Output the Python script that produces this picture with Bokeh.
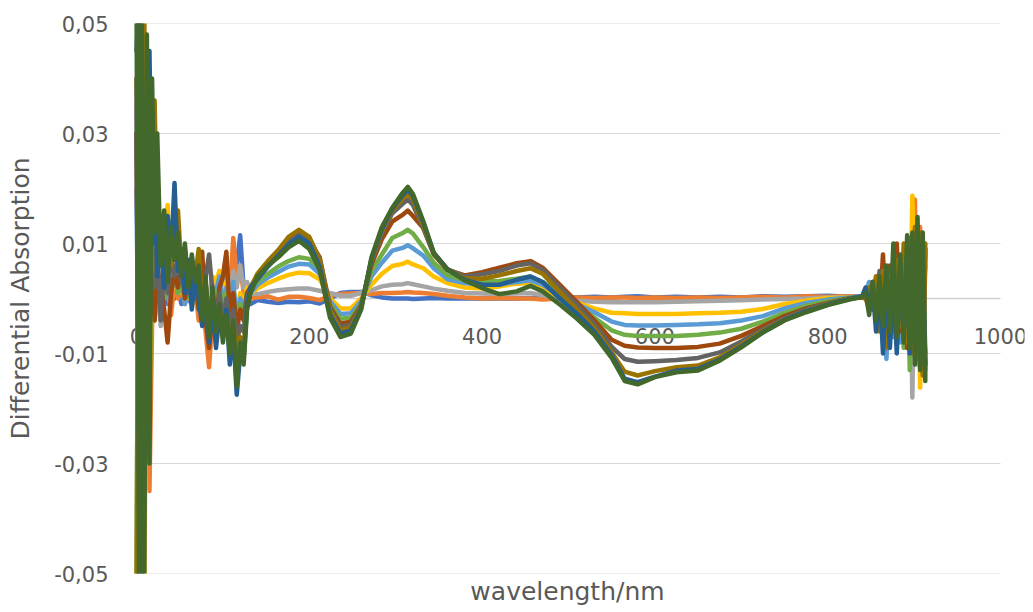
from bokeh.plotting import figure
from bokeh.models import Range1d, FixedTicker, Label
from bokeh.embed import file_html
from bokeh.resources import INLINE

# ---------------- data ----------------
wavelength = [
    0, 3, 6, 9, 12, 15, 18, 21, 24, 28, 32, 36, 40, 44, 48, 52, 56, 60, 64, 68, 72, 76, 80, 84,
    88, 92, 96, 100, 104, 108, 112, 116, 120, 124, 128, 132,
    140, 152, 164, 176, 188, 200, 212, 224, 236, 248, 260, 272, 284, 296, 308, 314, 320, 332, 344,
    360, 380, 400, 420, 440, 456, 470, 490, 510, 530, 550, 565, 580, 600, 625, 650, 675, 700,
    725, 750, 775, 800, 825, 840,
    844, 848, 852, 856, 860, 864, 868, 872, 876, 880, 884, 888, 892, 895, 898, 901, 904, 907, 910, 913,
]

s01_blue = [
    0.020, -0.025, 0.010, -0.008, 0.004, -0.003, 0.002, -0.002, 0.003,
    0.000, 0.002, -0.001, 0.001, 0.000, 0.002, -0.001, 0.001, 0.000, -0.001, 0.001, -0.002, 0.000, -0.003,
    -0.001, 0.001, -0.002, 0.000, 0.001, 0.002, 0.000, 0.004, 0.006, 0.0115, 0.002, 0.000, -0.001,
    -0.0003, -0.0006, -0.0008, -0.0006, -0.0007, -0.0005, -0.0009, 0.0000, 0.0010, 0.0012, 0.0012, 0.0006,
    0.0002, 0.0000, 0.0000, 0.0000, -0.0001, 0.0000, 0.0001, 0.0000, 0.0000, 0.0000, 0.0000, 0.0000, 0.0001,
    0.0000, 0.0002, 0.0002, 0.0003, 0.0002, 0.0003, 0.0004, 0.0002, 0.0003, 0.0002, 0.0003, 0.0002,
    0.0004, 0.0003, 0.0004, 0.0005, 0.0003, 0.0004,
    0.002, 0.000, 0.003, -0.001, 0.002, -0.003, 0.004, -0.004, 0.005, -0.005, 0.006, -0.006, 0.007,
    -0.008, 0.008, -0.009, 0.010, -0.010, 0.009, -0.010,
]
s02_orange = [
    0.030, -0.020, 0.015, -0.010, 0.005, -0.035, -0.005, 0.004, -0.002,
    0.003, 0.001, 0.002, -0.003, 0.003, 0.000, 0.002, -0.001, 0.001, 0.000, 0.002, -0.004, 0.001, -0.006,
    -0.0125, -0.003, 0.000, 0.002, -0.001, 0.003, 0.001, 0.011, 0.004, 0.006, 0.001, 0.000, 0.000,
    0.0002, 0.0004, -0.0002, 0.0003, 0.0003, 0.0001, -0.0003, 0.0005, 0.0008, 0.0009, 0.0010, 0.0008,
    0.0010, 0.0010, 0.0011, 0.0012, 0.0011, 0.0010, 0.0008, 0.0005, 0.0002, 0.0000, 0.0001, 0.0000, 0.0000,
    -0.0002, 0.0000, 0.0002, 0.0001, 0.0002, 0.0002, 0.0001, 0.0002, 0.0001, 0.0002, 0.0001, 0.0002,
    0.0003, 0.0002, 0.0004, 0.0003, 0.0004, 0.0002,
    0.000, -0.002, 0.002, -0.003, 0.003, -0.004, 0.004, -0.005, 0.006, -0.006, 0.007, -0.007, 0.009,
    -0.009, 0.012, 0.018, -0.011, 0.013, -0.012, 0.009,
]
s03_gray = [
    0.035, -0.035, 0.020, -0.018, 0.008, -0.008, 0.004, -0.004, 0.005,
    -0.005, 0.003, 0.000, 0.004, 0.002, 0.003, 0.001, 0.002, 0.000, 0.003, 0.001, 0.004, 0.002, 0.001,
    0.000, 0.003, 0.001, 0.005, 0.002, 0.004, 0.000, 0.005, 0.002, 0.006, 0.002, 0.003, 0.001,
    0.0008, 0.0012, 0.0015, 0.0017, 0.0018, 0.0018, 0.0014, 0.0010, 0.0005, 0.0005, 0.0010, 0.0015,
    0.0022, 0.0025, 0.0026, 0.0028, 0.0026, 0.0022, 0.0018, 0.0014, 0.0010, 0.0009, 0.0008, 0.0009, 0.0010,
    0.0006, 0.0000, -0.0004, -0.0006, -0.0007, -0.0007, -0.0007, -0.0007, -0.0006, -0.0005, -0.0004, -0.0003,
    -0.0002, -0.0001, 0.0000, 0.0002, 0.0002, 0.0002,
    0.001, 0.002, -0.002, 0.003, -0.003, 0.004, -0.004, 0.005, -0.006, 0.006, -0.007, 0.008, -0.009,
    0.010, -0.018, 0.011, -0.012, 0.010, -0.013, 0.008,
]
s04_yellow = [
    0.040, 0.020, -0.030, -0.055, 0.010, -0.020, 0.006, -0.004, 0.004,
    0.002, 0.006, 0.017, 0.004, 0.002, 0.006, 0.001, 0.004, 0.000, 0.003, -0.001, 0.002, 0.000, 0.001,
    -0.002, 0.004, 0.003, 0.005, 0.000, 0.003, -0.002, 0.002, -0.003, 0.001, -0.001, 0.002, 0.001,
    0.0018, 0.0028, 0.0036, 0.0043, 0.0047, 0.0046, 0.0035, 0.0000, -0.0018, -0.0018, 0.0000, 0.0025,
    0.0045, 0.0059, 0.0063, 0.0067, 0.0062, 0.0055, 0.0040, 0.0028, 0.0020, 0.0018, 0.0022, 0.0027, 0.0028,
    0.0018, 0.0002, -0.0008, -0.0018, -0.0026, -0.0027, -0.0028, -0.0028, -0.0028, -0.0027, -0.0026, -0.0024,
    -0.0019, -0.0010, -0.0004, 0.0001, 0.0002, 0.0002,
    0.002, -0.001, 0.003, -0.002, 0.004, -0.003, 0.005, -0.004, 0.006, -0.005, 0.007, -0.006, 0.009,
    -0.008, 0.0187, -0.009, 0.012, -0.0162, 0.010, -0.014,
]
s05_lightblue = [
    0.030, -0.030, 0.020, -0.015, 0.010, 0.004, 0.008, -0.002, 0.005,
    0.001, 0.003, 0.000, 0.002, 0.004, 0.001, 0.003, -0.001, 0.002, 0.000, 0.002, -0.001, 0.001, -0.002,
    0.000, -0.003, 0.001, 0.004, -0.001, 0.002, -0.002, 0.003, -0.004, 0.000, -0.002, 0.001, 0.001,
    0.0025, 0.0038, 0.0048, 0.0058, 0.0063, 0.0062, 0.0045, -0.0005, -0.0028, -0.0027, -0.0005, 0.0040,
    0.0065, 0.0087, 0.0092, 0.0097, 0.0091, 0.0078, 0.0055, 0.0035, 0.0028, 0.0025, 0.0026, 0.0030, 0.0033,
    0.0025, 0.0006, -0.0010, -0.0025, -0.0042, -0.0048, -0.0049, -0.0049, -0.0048, -0.0047, -0.0045, -0.0040,
    -0.0032, -0.0018, -0.0008, -0.0002, 0.0002, 0.0003,
    0.001, 0.003, -0.001, 0.002, -0.004, 0.003, -0.011, 0.004, -0.007, 0.005, -0.008, 0.006, -0.009,
    0.008, -0.010, 0.009, -0.011, 0.010, -0.012, 0.006,
]
s06_green = [
    -0.055, 0.050, -0.045, 0.020, -0.010, 0.008, 0.002, 0.006, 0.001,
    0.004, 0.000, 0.003, 0.002, 0.004, 0.001, 0.003, 0.000, 0.002, -0.001, 0.001, -0.002, 0.000, -0.003,
    -0.001, -0.004, 0.000, 0.002, -0.002, 0.001, -0.003, 0.000, -0.005, -0.001, -0.003, 0.001, 0.002,
    0.0030, 0.0045, 0.0058, 0.0068, 0.0075, 0.0072, 0.0055, -0.0010, -0.0037, -0.0035, -0.0010, 0.0050,
    0.0080, 0.0110, 0.0119, 0.0125, 0.0118, 0.0093, 0.0065, 0.0042, 0.0033, 0.0031, 0.0032, 0.0036, 0.0040,
    0.0030, 0.0010, -0.0012, -0.0035, -0.0058, -0.0066, -0.0068, -0.0068, -0.0068, -0.0066, -0.0062, -0.0055,
    -0.0042, -0.0026, -0.0013, -0.0005, 0.0001, 0.0003,
    0.001, -0.001, 0.002, -0.003, 0.003, -0.004, 0.005, -0.005, 0.006, -0.006, 0.005, -0.009, 0.008,
    -0.013, 0.009, -0.010, 0.010, -0.011, 0.008, -0.012,
]
s07_brown = [
    0.030, -0.030, 0.020, -0.010, 0.015, -0.005, 0.010, -0.004, 0.005,
    0.003, -0.002, -0.008, 0.001, 0.005, 0.002, 0.006, 0.000, 0.004, 0.001, 0.003, -0.002, 0.0085, -0.004,
    -0.009, -0.002, -0.005, 0.002, 0.004, 0.0085, -0.003, 0.001, -0.006, -0.002, -0.004, 0.001, 0.002,
    0.0040, 0.0062, 0.0080, 0.0100, 0.0110, 0.0105, 0.0075, -0.0015, -0.0046, -0.0042, -0.0012, 0.0062,
    0.0108, 0.0140, 0.0152, 0.0160, 0.0150, 0.0128, 0.0080, 0.0052, 0.0042, 0.0048, 0.0056, 0.0064, 0.0068,
    0.0056, 0.0025, -0.0007, -0.0040, -0.0075, -0.0086, -0.0089, -0.0090, -0.0090, -0.0088, -0.0082, -0.0068,
    -0.0050, -0.0032, -0.0018, -0.0008, 0.0000, 0.0002,
    0.000, 0.002, -0.002, 0.004, -0.003, 0.008, -0.005, 0.006, -0.004, 0.010, -0.006, 0.007, -0.009,
    0.010, -0.008, 0.012, -0.010, 0.011, -0.012, 0.009,
]
s08_darkgray = [
    0.040, -0.040, 0.035, -0.015, 0.025, 0.005, 0.015, 0.002, 0.010,
    -0.004, 0.006, 0.001, 0.008, 0.004, 0.007, 0.003, 0.009, 0.001, 0.006, 0.002, 0.005, 0.002, 0.004,
    0.008, 0.001, -0.005, 0.001, -0.004, 0.000, -0.006, -0.002, -0.008, -0.005, -0.006, 0.000, 0.002,
    0.0042, 0.0066, 0.0085, 0.0108, 0.0120, 0.0110, 0.0072, -0.0018, -0.0052, -0.0047, -0.0013, 0.0068,
    0.0118, 0.0155, 0.0172, 0.0180, 0.0170, 0.0128, 0.0082, 0.0053, 0.0040, 0.0044, 0.0050, 0.0060, 0.0064,
    0.0052, 0.0020, -0.0012, -0.0047, -0.0088, -0.0110, -0.0115, -0.0114, -0.0112, -0.0108, -0.0098, -0.0078,
    -0.0056, -0.0036, -0.0020, -0.0009, 0.0000, 0.0003,
    0.001, -0.002, 0.003, -0.003, 0.005, -0.004, 0.004, -0.006, 0.007, -0.005, 0.006, -0.008, 0.009,
    -0.007, 0.010, -0.010, 0.011, -0.011, 0.009, -0.013,
]
s09_darkyellow = [
    -0.055, 0.055, 0.030, 0.052, -0.010, 0.020, 0.005, 0.036, 0.008,
    0.010, 0.004, 0.009, 0.006, 0.012, 0.016, 0.005, 0.008, 0.003, 0.007, 0.004, 0.009, -0.002, 0.003,
    -0.006, 0.000, -0.008, -0.002, -0.005, -0.003, -0.009, -0.004, -0.011, -0.007, -0.009, -0.001, 0.002,
    0.0045, 0.0068, 0.0088, 0.0112, 0.0125, 0.0112, 0.0070, -0.0022, -0.0058, -0.0052, -0.0015, 0.0070,
    0.0122, 0.0160, 0.0181, 0.0190, 0.0180, 0.0132, 0.0083, 0.0053, 0.0037, 0.0036, 0.0042, 0.0050, 0.0055,
    0.0045, 0.0012, -0.0020, -0.0054, -0.0098, -0.0133, -0.0140, -0.0132, -0.0125, -0.0122, -0.0107, -0.0084,
    -0.0059, -0.0038, -0.0022, -0.0010, 0.0000, 0.0003,
    0.000, 0.002, -0.002, 0.004, -0.006, 0.005, -0.009, 0.004, -0.006, 0.007, -0.005, 0.010, -0.008,
    0.011, -0.010, 0.013, -0.011, 0.012, -0.014, 0.010,
]
s10_blue = [
    0.045, 0.055, -0.055, 0.030, -0.020, 0.045, 0.010, 0.025, 0.004,
    0.012, 0.002, 0.015, 0.008, 0.021, 0.005, 0.009, 0.001, 0.007, -0.002, 0.005, 0.000, -0.005, 0.003,
    -0.008, -0.001, -0.009, -0.003, -0.006, -0.002, -0.012, -0.006, -0.0175, -0.010, -0.011, -0.001, 0.002,
    0.0035, 0.0058, 0.0078, 0.0098, 0.0112, 0.0100, 0.0058, -0.0030, -0.0064, -0.0058, -0.0018, 0.0072,
    0.0126, 0.0163, 0.0188, 0.0198, 0.0187, 0.0138, 0.0083, 0.0053, 0.0034, 0.0025, 0.0025, 0.0034, 0.0040,
    0.0030, 0.0000, -0.0028, -0.0060, -0.0103, -0.0146, -0.0152, -0.0142, -0.0131, -0.0128, -0.0111, -0.0087,
    -0.0061, -0.0039, -0.0023, -0.0011, -0.0001, 0.0004,
    0.002, -0.002, 0.002, -0.006, 0.003, -0.010, 0.004, -0.009, 0.003, -0.010, 0.006, -0.006, 0.008,
    -0.010, 0.010, -0.008, 0.012, -0.012, 0.006, -0.012,
]
s11_darkgreen = [
    0.055, -0.055, 0.050, -0.052, 0.048, -0.030, 0.040, 0.012, 0.030,
    0.006, 0.016, 0.003, 0.013, 0.007, 0.012, 0.004, 0.010, 0.002, 0.008, 0.003, 0.006, -0.004, 0.004,
    -0.007, 0.002, -0.006, -0.001, -0.008, -0.003, -0.010, -0.004, -0.016, -0.008, -0.012, -0.002, 0.001,
    0.0040, 0.0060, 0.0075, 0.0093, 0.0105, 0.0090, 0.0052, -0.0035, -0.0070, -0.0064, -0.0020, 0.0075,
    0.0130, 0.0165, 0.0192, 0.0203, 0.0190, 0.0140, 0.0082, 0.0052, 0.0033, 0.0019, 0.0008, 0.0013, 0.0023,
    0.0013, -0.0011, -0.0037, -0.0066, -0.0108, -0.0150, -0.0156, -0.0143, -0.0134, -0.0131, -0.0113, -0.0089,
    -0.0062, -0.0040, -0.0025, -0.0012, -0.0002, 0.0003,
    0.001, -0.003, 0.003, -0.004, 0.004, -0.005, 0.006, -0.006, 0.010, -0.007, 0.008, -0.008, 0.0115,
    -0.009, 0.012, -0.012, 0.0148, -0.013, 0.012, -0.015,
]

series_values = [s01_blue, s02_orange, s03_gray, s04_yellow, s05_lightblue, s06_green,
                 s07_brown, s08_darkgray, s09_darkyellow, s10_blue, s11_darkgreen]
series_colors = ["#4472C4", "#ED7D31", "#A5A5A5", "#FFC000", "#5B9BD5", "#70AD47",
                 "#9E480E", "#636363", "#997300", "#255E91", "#43682B"]

x_ticks = [0, 200, 400, 600, 800, 1000]
x_tick_labels = ["0", "200", "400", "600", "800", "1000"]
y_ticks = [-0.05, -0.03, -0.01, 0.01, 0.03, 0.05]
y_tick_labels = ["-0,05", "-0,03", "-0,01", "0,01", "0,03", "0,05"]
x_title = "wavelength/nm"
y_title = "Differential Absorption"

# ---------------- figure ----------------
FONT = "DejaVu Sans"
TXT = "#595959"
GRID = "#D9D9D9"
x_min, x_max = x_ticks[0], x_ticks[-1]

# frame is a bit wider than the 0..1000 axis so that edge tick labels are not clipped
p = figure(width=1033, height=612, output_backend="svg", toolbar_location=None,
           x_range=Range1d(-30.1, 1027.8), y_range=Range1d(-0.05, 0.05),
           min_border_left=110, min_border_right=9, min_border_top=23, min_border_bottom=39,
           background_fill_color="white", border_fill_color="white")
p.outline_line_color = None
p.xgrid.visible = False
p.ygrid.visible = False

# horizontal gridlines and the zero axis line, spanning the 0..1000 axis only
p.segment(x0=[x_min] * len(y_ticks), x1=[x_max] * len(y_ticks), y0=y_ticks, y1=y_ticks,
          line_color=GRID, line_width=1)
p.segment(x0=[x_min], x1=[x_max], y0=[0], y1=[0], line_color="#D0D0D0", line_width=1.5)

# y axis
p.yaxis.ticker = FixedTicker(ticks=y_ticks)
p.yaxis.major_label_overrides = dict(zip(y_ticks, y_tick_labels))
p.yaxis.axis_line_color = None
p.yaxis.major_tick_line_color = None
p.yaxis.minor_tick_line_color = None
p.yaxis.major_tick_out = 0
p.yaxis.major_tick_in = 0
p.yaxis.major_label_standoff = 2
p.yaxis.major_label_text_font = FONT
p.yaxis.major_label_text_font_size = "21px"
p.yaxis.major_label_text_color = TXT
p.yaxis.axis_label = y_title
p.yaxis.axis_label_text_font = FONT
p.yaxis.axis_label_text_font_size = "25px"
p.yaxis.axis_label_text_font_style = "normal"
p.yaxis.axis_label_text_color = TXT
p.yaxis.axis_label_standoff = 16

# x axis: only the title; tick labels sit on the zero line
p.xaxis.ticker = FixedTicker(ticks=[])
p.xaxis.axis_line_color = None
p.xaxis.major_tick_line_color = None
p.xaxis.minor_tick_line_color = None
p.xaxis.major_tick_out = 0
p.xaxis.major_tick_in = 0
p.xaxis.major_label_standoff = 0
p.xaxis.axis_label = x_title
p.xaxis.axis_label_text_font = FONT
p.xaxis.axis_label_text_font_size = "25px"
p.xaxis.axis_label_text_font_style = "normal"
p.xaxis.axis_label_text_color = TXT
p.xaxis.axis_label_standoff = 3

for xv, lab in zip(x_ticks, x_tick_labels):
    p.add_layout(Label(x=xv, y=0, text=lab, x_offset=0, y_offset=-37,
                       text_align="center", text_baseline="middle",
                       text_font=FONT, text_font_size="21px", text_color=TXT,
                       level="underlay"))

for vals, col in zip(series_values, series_colors):
    n = min(len(wavelength), len(vals))
    p.line(wavelength[:n], vals[:n], line_color=col, line_width=4.5,
           line_join="round", line_cap="round")

open("out.html", "w").write(file_html(p, INLINE))
